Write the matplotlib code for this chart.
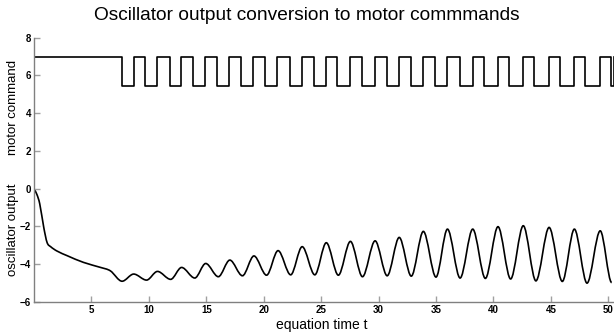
import matplotlib
matplotlib.use("Agg")
import matplotlib.pyplot as plt
from matplotlib.path import Path
from matplotlib.patches import PathPatch

plt.rcParams['font.family'] = ['Liberation Sans', 'DejaVu Sans']

# ---- data ----
# oscillator output: key points (start decay, then alternating troughs / peaks)
osc_t = [0.0, 0.25, 0.5, 0.85, 1.14, 1.45, 2.0, 2.9, 4.3, 5.8, 6.65,
         7.67, 8.68, 9.8, 10.75, 11.9, 12.85, 14.0, 14.95, 16.05, 17.05,
         18.15, 19.15, 20.25, 21.25, 22.35, 23.35, 24.45, 25.45, 26.5, 27.55,
         28.6, 29.7, 30.75, 31.8, 32.85, 33.9, 35.0, 36.0, 37.1, 38.2,
         39.3, 40.4, 41.5, 42.6, 43.7, 44.85, 46.0, 47.05, 48.15, 49.3, 50.3]
osc_v = [0.0, -0.3, -0.8, -2.05, -2.85, -3.07, -3.3, -3.55, -3.9, -4.17, -4.35,
         -4.90, -4.52, -4.84, -4.38, -4.80, -4.17, -4.73, -3.96, -4.66, -3.78,
         -4.61, -3.56, -4.58, -3.28, -4.56, -3.07, -4.56, -2.86, -4.58, -2.79,
         -4.66, -2.76, -4.61, -2.58, -4.63, -2.26, -4.68, -2.14, -4.73, -2.14,
         -4.75, -2.01, -4.78, -1.96, -4.88, -2.05, -4.91, -2.14, -5.00, -2.23, -4.97]

# motor command: switching times and levels
motor_t = [0.0, 7.67, 8.68, 9.7, 10.7, 11.8, 12.83, 13.85, 14.91, 15.93, 17.0,
           18.0, 19.1, 20.1, 21.2, 22.25, 23.3, 24.35, 25.4, 26.4, 27.5,
           28.6, 29.7, 30.73, 31.8, 32.8, 33.9, 34.9, 36.0, 37.05, 38.2,
           39.2, 40.4, 41.4, 42.6, 43.55, 44.8, 45.8, 47.0, 48.0, 49.25, 50.2, 50.5]
motor_high = 7.0
motor_low = 5.45

title = "Oscillator output conversion to motor commmands"
xticks = [5, 10, 15, 20, 25, 30, 35, 40, 45, 50]
yticks = [-6, -4, -2, 0, 2, 4, 6, 8]

# ---- figure ----
fig = plt.figure(figsize=(6.14, 3.34), dpi=100)
ax = fig.add_axes([34 / 614, 32 / 334, 1 - 34 / 614, (302 - 37.7) / 334])

# motor command step signal
levels = [motor_high if i % 2 == 0 else motor_low for i in range(len(motor_t))]
ax.step(motor_t, levels, where='post', color='black', lw=1.2)

# oscillator output as smooth curve (cubic segments, flat at extrema)
n = len(osc_t)
m = []
for i in range(n):
    if i == 0:
        m.append((osc_v[1] - osc_v[0]) / (osc_t[1] - osc_t[0]))
    elif i == n - 1:
        m.append(0.0)
    else:
        d1 = osc_v[i] - osc_v[i - 1]
        d2 = osc_v[i + 1] - osc_v[i]
        if d1 * d2 < 0:
            m.append(0.0)
        else:
            m.append((osc_v[i + 1] - osc_v[i - 1]) / (osc_t[i + 1] - osc_t[i - 1]))
verts = [(osc_t[0], osc_v[0])]
codes = [Path.MOVETO]
for i in range(n - 1):
    dt = osc_t[i + 1] - osc_t[i]
    verts += [(osc_t[i] + dt / 3, osc_v[i] + m[i] * dt / 3),
              (osc_t[i + 1] - dt / 3, osc_v[i + 1] - m[i + 1] * dt / 3),
              (osc_t[i + 1], osc_v[i + 1])]
    codes += [Path.CURVE4] * 3
ax.add_patch(PathPatch(Path(verts, codes), fill=False, ec='black', lw=1.2))

ax.set_xlim(0, 50.5)
ax.set_ylim(-6, 8)
ax.set_xticks(xticks)
ax.set_yticks(yticks)
ax.tick_params(direction='in', length=4, width=1, color='#a0a0a0',
               labelsize=7, pad=2)
for lab in ax.get_xticklabels() + ax.get_yticklabels():
    lab.set_fontweight('bold')
for s in ['top', 'right']:
    ax.spines[s].set_visible(False)
for s in ['left', 'bottom']:
    ax.spines[s].set_color('#808080')
    ax.spines[s].set_linewidth(1)

fig.text(0.5, 1 - 15 / 334, title, ha='center', va='center', fontsize=13.8)
fig.text(13 / 614, 1 - 107 / 334, "motor command", rotation=90,
         ha='center', va='center', fontsize=9.5)
fig.text(13 / 614, 1 - 230 / 334, "oscillator output", rotation=90,
         ha='center', va='center', fontsize=9.5)
fig.text(322 / 614, 1 - 325 / 334, "equation time t", ha='center',
         va='center', fontsize=10)

fig.savefig("out.png", dpi=100)
